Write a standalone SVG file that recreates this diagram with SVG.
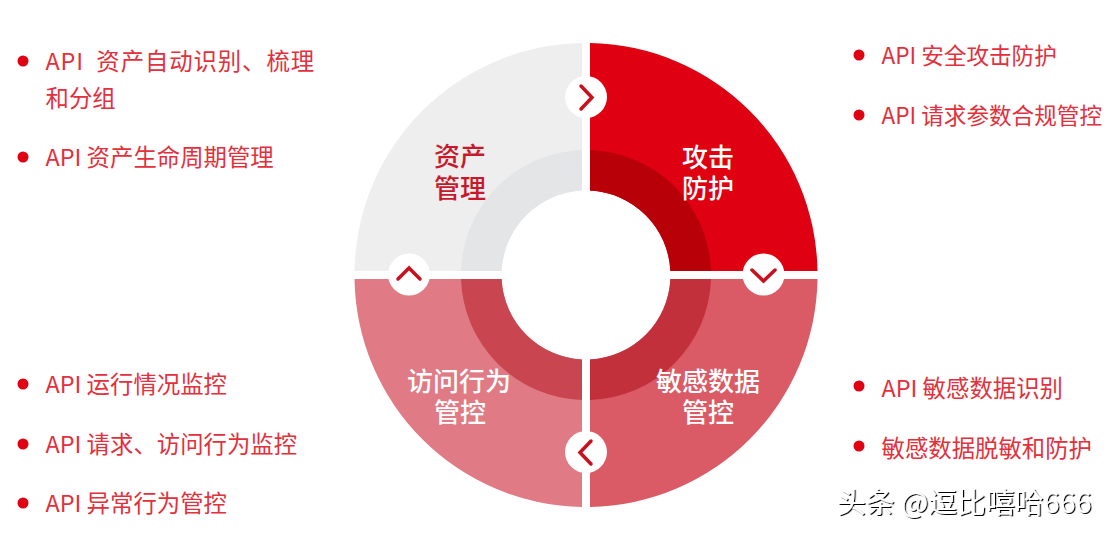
<svg xmlns="http://www.w3.org/2000/svg" width="1109" height="534" viewBox="0 0 1109 534">
<defs>
<style>
text{font-family:"Noto Sans CJK SC","Noto Sans",sans-serif}
.item{font-size:23.4px;fill:#e2303d}
.r1{font-size:22.600px}
.lab{font-size:26px;text-anchor:middle;font-weight:500}
.dot{fill:#e00012}
.chev{fill:none;stroke:#c8101e;stroke-width:3.500;stroke-linecap:round;stroke-linejoin:miter}
</style>
<filter id="emboss" x="-5%" y="-20%" width="110%" height="140%"><feDropShadow dx="1.200" dy="1" stdDeviation="0.300" flood-color="#000"/></filter>
</defs>
<rect width="1109" height="534" fill="#fff"/>
<g id="sector-asset">
<path d="M582 43A231.5 231.5 0 0 0 354.5 271H501.6A84.5 84.5 0 0 1 582 190.6Z" fill="#eeeeef"/>
<path d="M582 150A125 125 0 0 0 461 271H501.6A84.5 84.5 0 0 1 582 190.6Z" fill="#e4e5e7"/>
<text class="lab" fill="#c8192b"><tspan x="460" y="166">资产</tspan><tspan x="460" y="197.500">管理</tspan></text>
</g>
<g id="sector-attack">
<path d="M590 43A231.5 231.5 0 0 1 817.5 271H670.4A84.5 84.5 0 0 0 590 190.6Z" fill="#df0012"/>
<path d="M590 150A125 125 0 0 1 711 271H670.4A84.5 84.5 0 0 0 590 190.6Z" fill="#b80009"/>
<text class="lab" fill="#fff"><tspan x="708" y="166.500">攻击</tspan><tspan x="708" y="197.500">防护</tspan></text>
</g>
<g id="sector-sensitive">
<path d="M590 507A231.5 231.5 0 0 0 817.5 279H670.4A84.5 84.5 0 0 1 590 359.4Z" fill="#da5a66"/>
<path d="M590 400A125 125 0 0 0 711 279H670.4A84.5 84.5 0 0 1 590 359.4Z" fill="#c2303c"/>
<text class="lab" fill="#fff"><tspan x="708" y="390.500">敏感数据</tspan><tspan x="708" y="421.500">管控</tspan></text>
</g>
<g id="sector-access">
<path d="M582 507A231.5 231.5 0 0 1 354.5 279H501.6A84.5 84.5 0 0 0 582 359.4Z" fill="#e07a84"/>
<path d="M582 400A125 125 0 0 1 461 279H501.6A84.5 84.5 0 0 0 582 359.4Z" fill="#c9454f"/>
<text class="lab" fill="#fff"><tspan x="459" y="390.500">访问行为</tspan><tspan x="460" y="421.500">管控</tspan></text>
</g>
<g id="connectors">
<circle cx="586" cy="97" r="21" fill="#fff"/>
<path class="chev" d="M581 86L592 97.5L581 109"/>
<circle cx="763.5" cy="274.5" r="21" fill="#fff"/>
<path class="chev" d="M752 270L763.5 281L775 270"/>
<circle cx="586" cy="452" r="21" fill="#fff"/>
<path class="chev" d="M591 441L580 452.500L591 464"/>
<circle cx="409" cy="274.500" r="21" fill="#fff"/>
<path class="chev" d="M398 279L409 268L420 279"/>
</g>
<g id="list-asset">
<circle class="dot" cx="23" cy="61" r="5.500"/>
<text class="item" x="45.500" y="69.500" xml:space="preserve" letter-spacing="0.900">API  资产自动识别、梳理</text>
<text class="item" x="45.500" y="106.500">和分组</text>
<circle class="dot" cx="23" cy="157" r="5.500"/>
<text class="item" x="45.500" y="165.500">API 资产生命周期管理</text>
</g>
<g id="list-attack">
<circle class="dot" cx="859" cy="55" r="5.500"/>
<text class="item r1" x="881.500" y="63.500">API 安全攻击防护</text>
<circle class="dot" cx="859" cy="115" r="5.500"/>
<text class="item r1" x="881.500" y="123.500">API 请求参数合规管控</text>
</g>
<g id="list-access">
<circle class="dot" cx="23" cy="384" r="5.500"/>
<text class="item" x="45.500" y="392.500">API 运行情况监控</text>
<circle class="dot" cx="23" cy="444" r="5.500"/>
<text class="item" x="45.500" y="452.500">API 请求、访问行为监控</text>
<circle class="dot" cx="23" cy="503" r="5.500"/>
<text class="item" x="45.500" y="511.500">API 异常行为管控</text>
</g>
<g id="list-sensitive">
<circle class="dot" cx="859" cy="386" r="5.500"/>
<text class="item" x="881.500" y="396.500">API 敏感数据识别</text>
<circle class="dot" cx="859" cy="446" r="5.500"/>
<text class="item" x="881.500" y="456.500">敏感数据脱敏和防护</text>
</g>
<text x="837" y="513" font-size="28.800px" fill="#fff" filter="url(#emboss)">头条 @逗比嘻哈666</text>
</svg>
